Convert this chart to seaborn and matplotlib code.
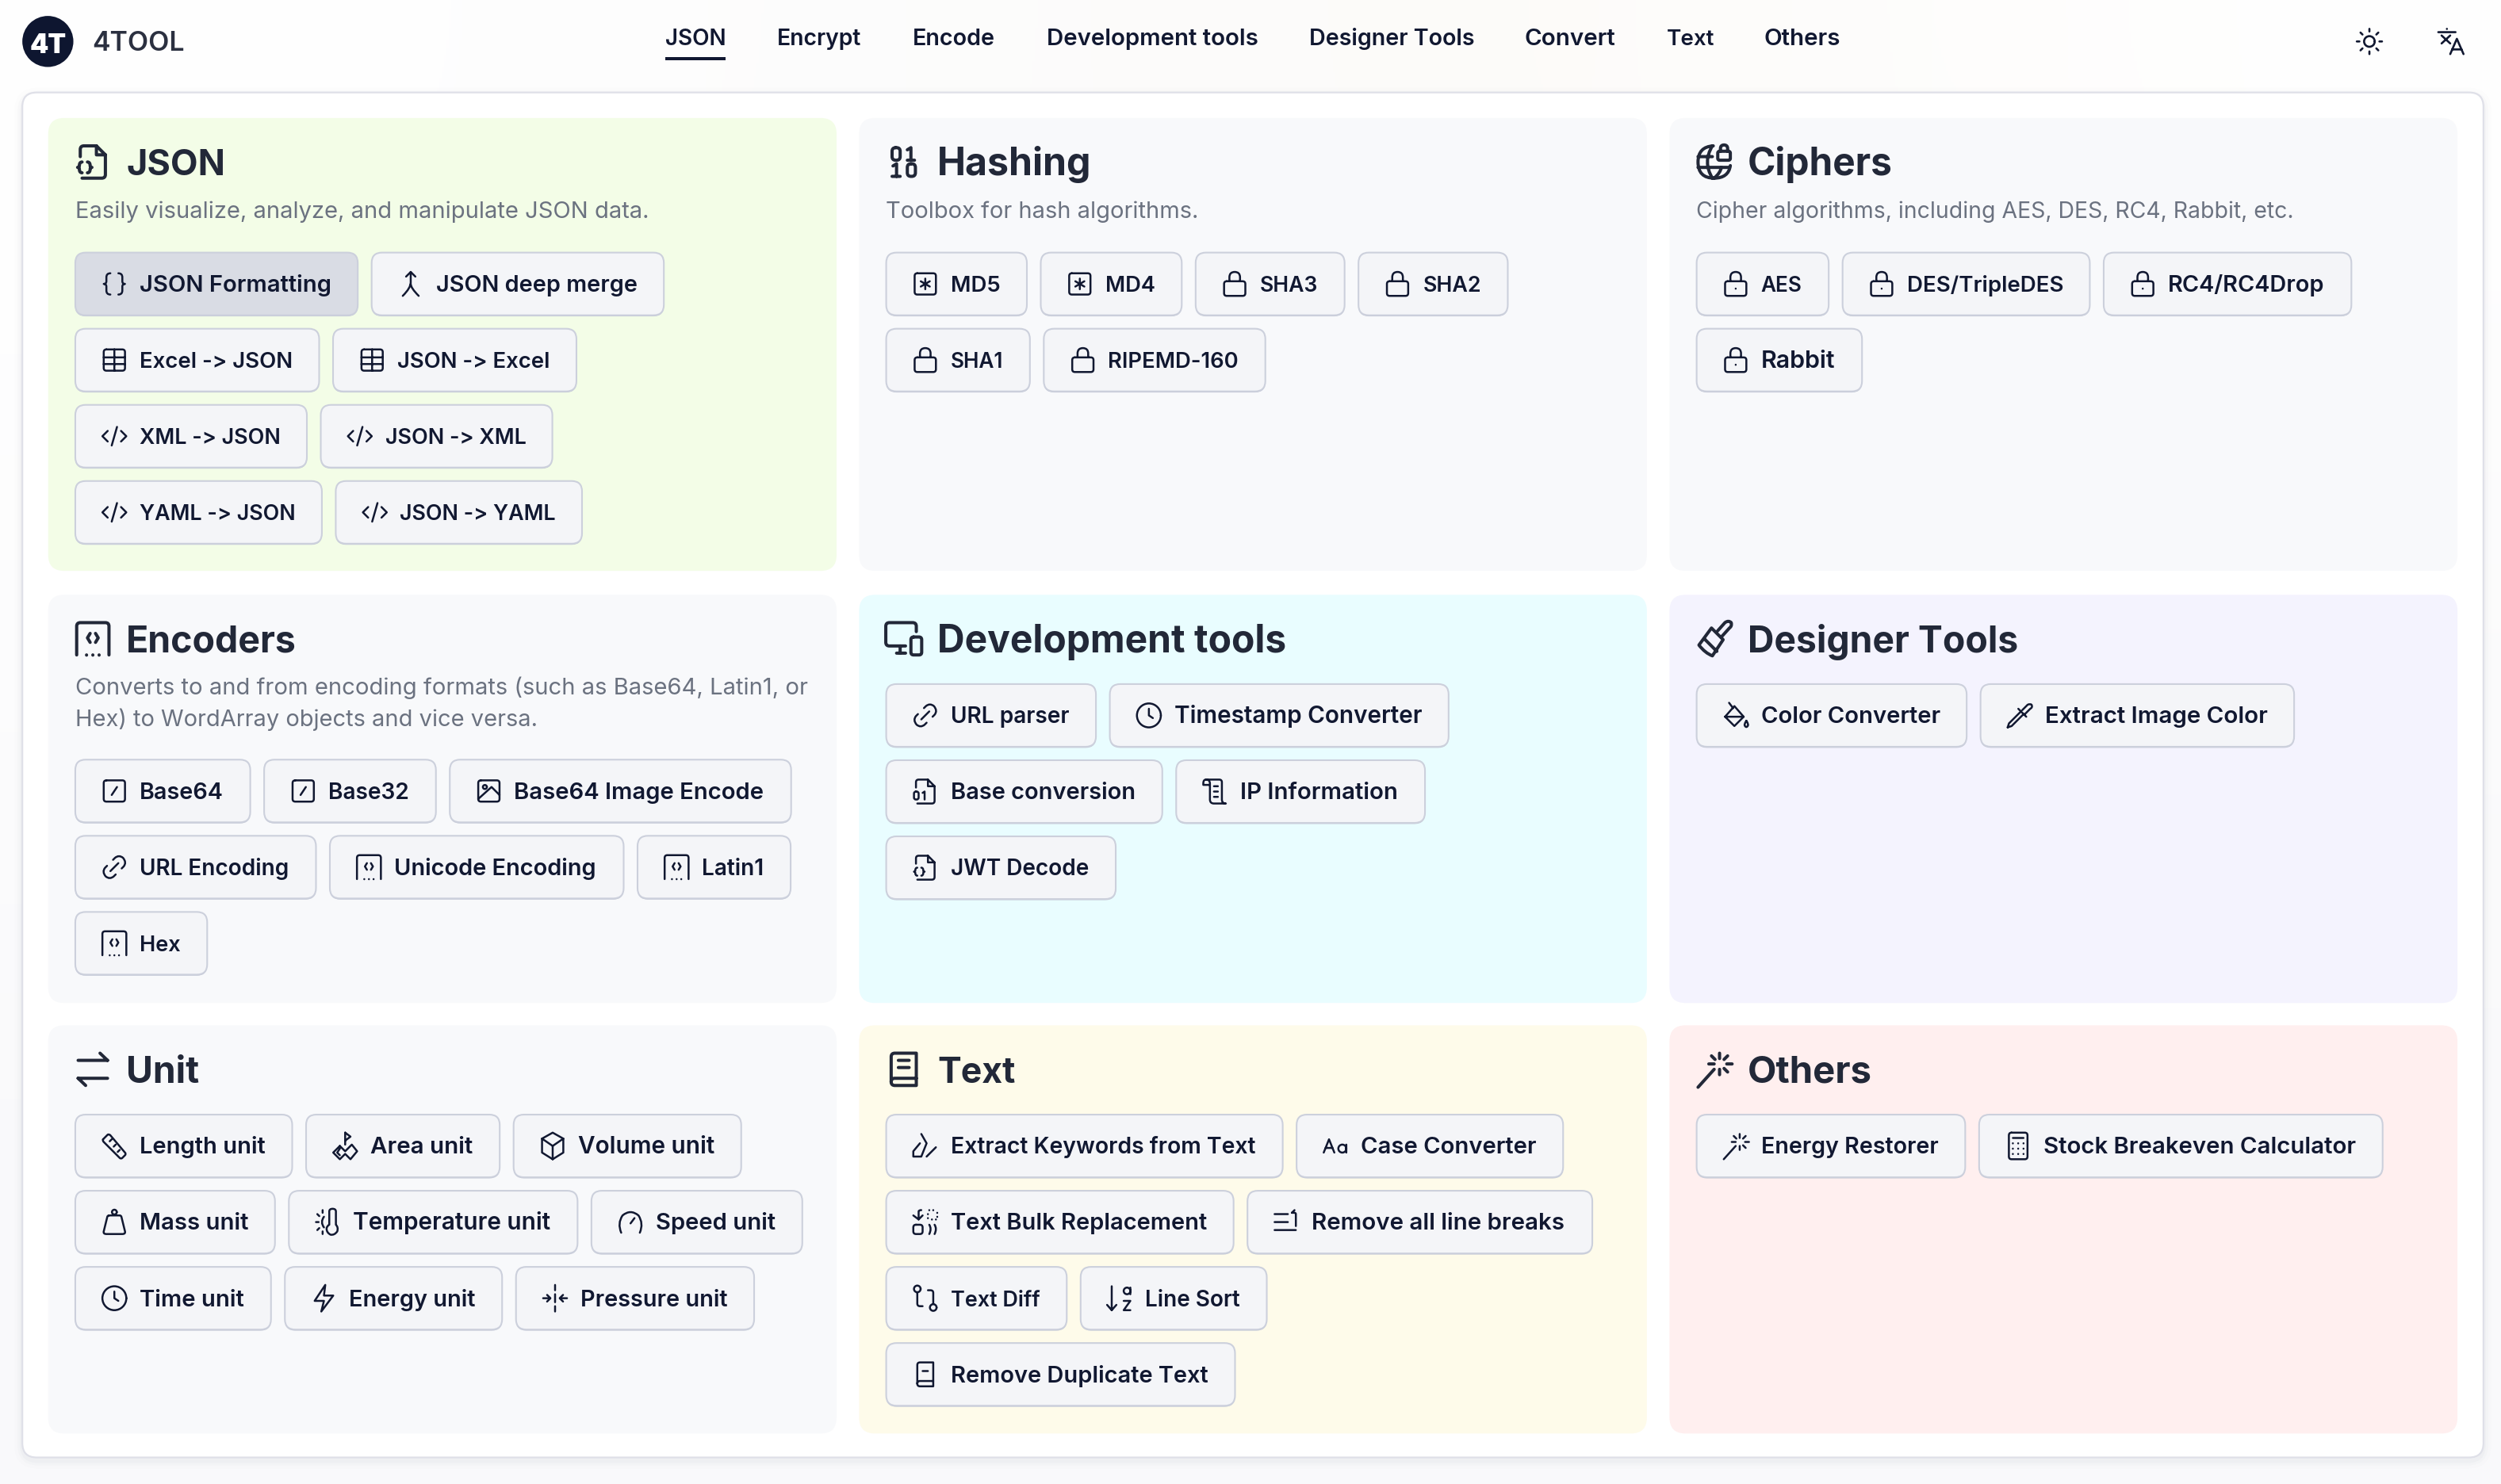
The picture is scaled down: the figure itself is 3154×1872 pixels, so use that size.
import re
import numpy as np
import matplotlib
matplotlib.use("Agg")
import matplotlib.pyplot as plt
from matplotlib.patches import FancyBboxPatch, PathPatch, Circle, Rectangle
from matplotlib.path import Path
from matplotlib.colors import to_rgb
import seaborn as sns

# ---------- content ----------
BRAND = "4TOOL"
NAV_LABELS = ["JSON", "Encrypt", "Encode", "Development tools", "Designer Tools", "Convert", "Text", "Others"]

CARD_TITLES = ["JSON", "Hashing", "Ciphers", "Encoders", "Development tools", "Designer Tools", "Unit", "Text", "Others"]
CARD_DESCS = [
    ["Easily visualize, analyze, and manipulate JSON data."],
    ["Toolbox for hash algorithms."],
    ["Cipher algorithms, including AES, DES, RC4, Rabbit, etc."],
    ["Converts to and from encoding formats (such as Base64, Latin1, or",
     "Hex) to WordArray objects and vice versa."],
    [], [], [], [], [],
]
CARD_ICONS = ["file_braces", "binary", "globe_lock", "file_dots", "devices", "brush", "arrows", "book2", "wand"]

JSON_TOOLS = [["JSON Formatting", "JSON deep merge"], ["Excel -> JSON", "JSON -> Excel"],
              ["XML -> JSON", "JSON -> XML"], ["YAML -> JSON", "JSON -> YAML"]]
HASH_TOOLS = [["MD5", "MD4", "SHA3", "SHA2"], ["SHA1", "RIPEMD-160"]]
CIPHER_TOOLS = [["AES", "DES/TripleDES", "RC4/RC4Drop"], ["Rabbit"]]
ENCODER_TOOLS = [["Base64", "Base32", "Base64 Image Encode"], ["URL Encoding", "Unicode Encoding", "Latin1"], ["Hex"]]
DEV_TOOLS = [["URL parser", "Timestamp Converter"], ["Base conversion", "IP Information"], ["JWT Decode"]]
DESIGN_TOOLS = [["Color Converter", "Extract Image Color"]]
UNIT_TOOLS = [["Length unit", "Area unit", "Volume unit"], ["Mass unit", "Temperature unit", "Speed unit"],
              ["Time unit", "Energy unit", "Pressure unit"]]
TEXT_TOOLS = [["Extract Keywords from Text", "Case Converter"], ["Text Bulk Replacement", "Remove all line breaks"],
              ["Text Diff", "Line Sort"], ["Remove Duplicate Text"]]
OTHER_TOOLS = [["Energy Restorer", "Stock Breakeven Calculator"]]
ALL_TOOLS = [JSON_TOOLS, HASH_TOOLS, CIPHER_TOOLS, ENCODER_TOOLS, DEV_TOOLS, DESIGN_TOOLS, UNIT_TOOLS, TEXT_TOOLS, OTHER_TOOLS]

TOOL_ICONS = {
    "JSON Formatting": "braces", "JSON deep merge": "merge", "Excel -> JSON": "table", "JSON -> Excel": "table",
    "XML -> JSON": "code", "JSON -> XML": "code", "YAML -> JSON": "code", "JSON -> YAML": "code",
    "MD5": "star_box", "MD4": "star_box", "SHA3": "lock", "SHA2": "lock", "SHA1": "lock", "RIPEMD-160": "lock",
    "AES": "lockdot", "DES/TripleDES": "lockdot", "RC4/RC4Drop": "lockdot", "Rabbit": "lockdot",
    "Base64": "slash_box", "Base32": "slash_box", "Base64 Image Encode": "image", "URL Encoding": "link",
    "Unicode Encoding": "file_dots", "Latin1": "file_dots", "Hex": "file_dots",
    "URL parser": "link", "Timestamp Converter": "clock", "Base conversion": "file01", "IP Information": "scroll",
    "JWT Decode": "file_braces", "Color Converter": "bucket", "Extract Image Color": "pipette",
    "Length unit": "ruler", "Area unit": "area", "Volume unit": "cube", "Mass unit": "weight",
    "Temperature unit": "thermo", "Speed unit": "gauge", "Time unit": "clock", "Energy unit": "bolt",
    "Pressure unit": "pressure", "Extract Keywords from Text": "highlight", "Case Converter": "case",
    "Text Bulk Replacement": "replace", "Remove all line breaks": "breaks", "Text Diff": "diff", "Line Sort": "sort",
    "Remove Duplicate Text": "book1", "Energy Restorer": "wand", "Stock Breakeven Calculator": "calc",
}

# ---------- layout (units: 1568 wide page) ----------
PAGE_W, PAGE_H = 1568.0, 1568.0 * 1872 / 3154
NAV_SPANS = [(417, 455), (487, 540), (572, 624), (656, 789), (821, 925), (956, 1013), (1045, 1075), (1106, 1154)]
COL_X = [(30.2, 524.5), (538.6, 1032.5), (1046.7, 1540.7)]
ROW_Y = [(74, 358), (373, 629), (643, 899)]
TITLE_W = [62, 97, 91, 107, 219, 170, 46, 49, 78]
DESC_W = [[360], [196], [374], [460, 290], [], [], [], [], []]
FIRST_ROW_OFFSET = [84.4, 84.4, 84.4, 103.4, 56, 56, 56, 56, 56]
BTN_W = [
    [[177.1, 183.2], [152.9, 152.6], [145.2, 145.2], [154.6, 154.4]],
    [[88.2, 88.4, 93.4, 93.6], [90.1, 138.9]],
    [[82.8, 155, 155.3], [103.7]],
    [[109.7, 107.7, 214], [150.9, 184.2, 96], [82.7]],
    [[131.5, 212.4], [173.1, 156], [143.9]],
    [[169.3, 196.6]],
    [[136, 121.4, 142.7], [125.2, 181, 132.2], [122.7, 136.2, 149.3]],
    [[248.6, 167.1], [217.8, 216.2], [113.2, 116.7], [218.7]],
    [[168.4, 253]],
]
BTN_H, BTN_PITCH, BTN_GAP = 39.3, 47.75, 8.7

CARD_COLORS = ["#f3fde7", "#f8f9fb", "#f8f9fb", "#f8f9fb", "#e9fdff", "#f4f3fe", "#f8f9fb", "#fefbea", "#ffefef"]
INK, TITLE_INK, MUTED = "#111831", "#222838", "#6b7280"
BTN_FILL, BTN_ACTIVE, BTN_EDGE = "#f4f5f8", "#d9dce4", "#ccd0dc"
PAGE_GRID = [["#ffffff", "#fcfcfc", "#fdfbf8", "#ffffff"],
             ["#fcfcfd", "#fbfbfc", "#fbfbfb", "#fbfbfc"],
             ["#f9f9fb", "#f9f9fb", "#f9f9fb", "#f9f9fb"]]

FONT = "Inter"

# ---------- icons, 24-unit grid ----------
ICONS = {
    "braces": "M9 4 Q6 4 6 7 L6 10 Q6 12 4 12 Q6 12 6 14 L6 17 Q6 20 9 20 M15 4 Q18 4 18 7 L18 10 Q18 12 20 12 Q18 12 18 14 L18 17 Q18 20 15 20",
    "merge": "M12 3 L12 11 Q12 15 6 21 M12 12 Q12 15 18 21 M8.5 6.5 L12 3 L15.5 6.5",
    "table": "R 4 4 16 16 2 M4 10 L20 10 M4 15 L20 15 M12 4 L12 20",
    "code": "M7 8 L3 12 L7 16 M17 8 L21 12 L17 16 M14 5 L10 19",
    "star_box": "R 4 4 16 16 2 M12 8 L12 16 M8.6 10 L15.4 14 M15.4 10 L8.6 14",
    "lock": "R 4 10 16 11 2 M8 10 L8 7 Q8 3 12 3 Q16 3 16 7 L16 10",
    "lockdot": "R 4 10 16 11 2 M8 10 L8 7 Q8 3 12 3 Q16 3 16 7 L16 10 M12 15.5 L12 15.6",
    "slash_box": "R 4 4 16 16 2 M10 15 L14 9",
    "image": "R 4 4 16 16 2 O 9 9 1.5 M4 18 L14 9 L20 15",
    "link": "M11 6.5 L12.5 5 Q15.5 2.5 18.5 5 Q21.5 8.5 19 11.5 L17.5 13 M13 17.5 L11.5 19 Q8.5 21.5 5.5 19 Q2.5 15.5 5 12.5 L6.5 11 M9 15 L15 9",
    "file_dots": "M3 21 L3 5 Q3 3 5 3 L19 3 Q21 3 21 5 L21 21 M10.5 9 L9 11.5 L10.5 14 M13.5 9 L15 11.5 L13.5 14 M8.5 21 L8.5 21.1 M12 21 L12 21.1 M15.5 21 L15.5 21.1",
    "clock": "O 12 12 9 M12 7 L12 12 L15 14",
    "file_braces": "M5 9 L5 5 Q5 3 7 3 L14 3 L19 8 L19 19 Q19 21 17 21 L6 21 M14 3 L14 8 L19 8 M6 12 Q4.5 12 4.5 14 Q4.5 15 3.5 15 Q4.5 15 4.5 16 Q4.5 18 6 18 M9 12 Q10.5 12 10.5 14 Q10.5 15 11.5 15 Q10.5 15 10.5 16 Q10.5 18 9 18",
    "file01": "M5 9 L5 5 Q5 3 7 3 L14 3 L19 8 L19 19 Q19 21 17 21 L6 21 M14 3 L14 8 L19 8 R 3.5 12 3.5 6 1.5 M10 13 L11.5 12 L11.5 18",
    "scroll": "M5 3 Q8 3 8 6 L8 18 Q8 21 11 21 L20 21 Q17 21 17 18 L17 5 Q17 3 15 3 L5 3 Q3 3 3 6 L3 7 L8 7 M11 8 L14 8 M11 12 L14 12 M11 16 L14 16",
    "bucket": "M7 2.5 L10 6.5 M11 5 L18 13 L11 20 L4 13 Z M4 13 L18 13 M20 16 Q22 19 21 20 Q20 21.5 19 20 Q18 19 20 16",
    "pipette": "M3 21 L4 18 L13 9 M3 21 L6 20 L15 11 M11 7 L17 13 M14 8 L18 4 Q20 3 21 4 Q22 6 20 7 L16 11",
    "ruler": "M3.5 7 L7 3.5 Q8 3 9 4 L20 17 Q21 18 20 19 L18 21 Q17 22 16 21 L4 9 Q3 8 3.5 7 M10 7 L8.5 8.5 M13 11 L11.5 12.5 M16 15 L14.5 16.5",
    "area": "M12 2 L12 11 M12 2 L16 5 L12 8 M8 12 L3 17 L8 22 L12 18 L16 22 L21 16 L17 11 L12 16 L8 12 M8 14 L6 17 L8 19",
    "cube": "M12 2 L20 6.5 L20 17 L12 22 L4 17 L4 6.5 Z M4 6.5 L12 12 L20 6.5 M12 12 L12 22",
    "weight": "O 12 4.5 1.8 M8 7 L16 7 Q17 7 17.3 8 L20 19 Q20.5 21 18 21 L6 21 Q3.5 21 4 19 L6.7 8 Q7 7 8 7",
    "thermo": "M13 4 Q13 2 15.5 2 Q18 2 18 4 L18 14 Q20 16 19 19 Q17 22 14 21.5 Q11 20 11 17 Q11 15 13 14 Z M8 3 L8 5 M4 6 L5.5 7.5 M3 12 L5 12 M4 18 L5.5 16.5 M8 21 L8 19 M9 8 Q6 12 9 16",
    "gauge": "M5 20 Q2 13 6 7 Q12 2 18 7 Q22 13 19 20 M12 13 L15 9",
    "bolt": "M13 2 L5 14 L12 14 L10 22 L19 10 L12 10 Z",
    "pressure": "M12 2 L12 6 M12 9 L12 15 M12 18 L12 22 M3 12 L8 12 M6 9.5 L8.5 12 L6 14.5 M21 12 L16 12 M18 9.5 L15.5 12 L18 14.5",
    "highlight": "M9 3 L13 10 L9 20 L3 20 L3 16 L8 10 M13 20 L20 13",
    "case": "M3 17 L7 7 L11 17 M4.5 13.5 L9.5 13.5 O 17 14 3 M20 11 L20 17",
    "replace": "R 3 14 7 7 2 M15 14 Q17 17 15 21 M19 14 Q21 17 19 21 M3 7 L7 10 L10 7 M7 10 L7 4 Q7 3 9 3 M15 3 L15 3.1 M18 3 L18 3.1 M21 5 L21 5.1 M21 8 L21 8.1 M14 6 L14 6.1 M14 9 L14 9.1 M17 10 L17 10.1 M20 10 L20 10.1",
    "breaks": "M3 6 L13 6 M3 12 L13 12 M3 18 L19 18 M19 15 L19 6 Q19 5 18 5 L16 5 M16 5 L18 3",
    "diff": "O 6 5 2.5 O 18 19 2.5 M6 8 L6 16 Q6 18 8 18 L10 18 M18 16 L18 8 Q18 6 16 6 L14 6",
    "sort": "M6 3 L6 21 M2.5 17 L6 21 L9.5 17 O 17.5 6.5 2.5 M20 4 L20 9 M15 14 L20 14 L15 21 L20 21",
    "book1": "M6 19 L6 5 Q6 3 8 3 L18 3 L18 21 L8 21 Q6 21 6 19 Q6 17 8 17 L18 17 M10 9.5 L14 9.5",
    "book2": "M5 19 L5 5 Q5 3 7 3 L19 3 L19 21 L7 21 Q5 21 5 19 Q5 17 7 17 L19 17 M9 7 L15 7 M9 11 L15 11",
    "calc": "R 5 2 14 20 2 M8 6 L16 6 M8 10 L8 10.1 M12 10 L12 10.1 M16 10 L16 10.1 M8 14 L8 14.1 M12 14 L12 14.1 M16 14 L16 14.1 M8 18 L8 18.1 M12 18 L12 18.1 M16 18 L16 18.1",
    "wand": "M3 22 L12 12 M15 3 L15 6 M15 12 L15 15 M22 9 L19 9 M12 9 L9 9 M10.5 4.5 L12.5 6.5 M19.5 4.5 L17.5 6.5 M19.5 13.5 L17.5 11.5",
    "binary": "R 5.5 4 4.5 7 2 M14 5.2 L16 4 L16 11 M14 11 L18 11 M6 14.2 L8 13 L8 20 M5.5 20 L10 20 R 14 13 4.5 7 2",
    "globe_lock": "M11.5 3 Q3 3.5 3 12 Q3 21 12 21 Q20 21 21 14 M3 9 L11 9 M3 15 L20.5 15 M11 3 Q5.5 12 11 21 M12 21 Q15.5 18 16 15 R 14 6 7 5 1 M15.5 6 L15.5 4.5 Q15.5 2.5 17.5 2.5 Q19.5 2.5 19.5 4.5 L19.5 6",
    "devices": "M19 8 L19 5 Q19 3 17 3 L4 3 Q2 3 2 5 L2 14 Q2 16 4 16 L13 16 M8 20 L13 20 M10 16 L10 20 R 16 11 6 10 1.5",
    "brush": "M14 7.5 L18 3 Q20 1.5 21.5 3 Q22 5 20.5 6 L16 11 M10.5 6 L17 12.5 L11 21.5 Q7 20 3.5 15.5 Z M6.5 12 L13.5 19",
    "arrows": "M3.8 7 L20.2 7 M16 3 L20.2 7 M20.2 17 L3.8 17 M8 21 L3.8 17",
    "sun": "O 12 12 4 M12 2.5 L12 4.5 M12 19.5 L12 21.5 M2.5 12 L4.5 12 M19.5 12 L21.5 12 M5.3 5.3 L6.8 6.8 M17.2 17.2 L18.7 18.7 M5.3 18.7 L6.8 17.2 M17.2 6.8 L18.7 5.3",
    "translate": "M2 5 L15 5 M8.5 2.5 L8.5 2.6 M4.5 7.5 L11 13.5 M11 7.5 L4.5 13.5 M11 21.5 L16 10 L21 21.5 M12.5 18 L19.5 18",
}


def icon_path(spec, cx, cy, size):
    verts, codes = [], []
    toks = re.findall(r"[A-Za-z]|-?[\d.]+", spec)
    i = 0

    def nums(n):
        nonlocal i
        vals = [float(v) for v in toks[i:i + n]]
        i += n
        return vals

    def add(code, *pts):
        for p in pts:
            verts.append(p)
            codes.append(code)

    while i < len(toks):
        c = toks[i]
        i += 1
        if c == "M":
            x, y = nums(2)
            add(Path.MOVETO, (x, y))
        elif c == "L":
            x, y = nums(2)
            add(Path.LINETO, (x, y))
        elif c == "Q":
            a, b, x, y = nums(4)
            add(Path.CURVE3, (a, b), (x, y))
        elif c == "Z":
            add(Path.CLOSEPOLY, verts[-1])
        elif c == "O":
            x, y, r = nums(3)
            k = 0.5523 * r
            add(Path.MOVETO, (x + r, y))
            add(Path.CURVE4, (x + r, y + k), (x + k, y + r), (x, y + r))
            add(Path.CURVE4, (x - k, y + r), (x - r, y + k), (x - r, y))
            add(Path.CURVE4, (x - r, y - k), (x - k, y - r), (x, y - r))
            add(Path.CURVE4, (x + k, y - r), (x + r, y - k), (x + r, y))
        elif c == "R":
            x, y, w, h, r = nums(5)
            add(Path.MOVETO, (x + r, y))
            add(Path.LINETO, (x + w - r, y))
            add(Path.CURVE3, (x + w, y), (x + w, y + r))
            add(Path.LINETO, (x + w, y + h - r))
            add(Path.CURVE3, (x + w, y + h), (x + w - r, y + h))
            add(Path.LINETO, (x + r, y + h))
            add(Path.CURVE3, (x, y + h), (x, y + h - r))
            add(Path.LINETO, (x, y + r))
            add(Path.CURVE3, (x, y), (x + r, y))
    pts = (np.array(verts) - 12.0) * size / 24.0 + np.array([cx, cy])
    return Path(pts, codes)


# ---------- drawing ----------
sns.set_theme(style="white", rc={"axes.linewidth": 0})
plt.rcParams["font.family"] = [FONT, "DejaVu Sans"]
card_palette = sns.color_palette(CARD_COLORS)

fig = plt.figure(figsize=(15.77, 9.36), dpi=200)
ax = fig.add_axes([0, 0, 1, 1])
ax.imshow(np.array([[to_rgb(c) for c in row] for row in PAGE_GRID]), extent=(0, PAGE_W, PAGE_H, 0),
          aspect="auto", interpolation="bicubic", zorder=0)
ax.set_xlim(0, PAGE_W)
ax.set_ylim(PAGE_H, 0)
ax.set_axis_off()
renderer = fig.canvas.get_renderer()
UNIT_PX = 3154 / 1568


def box(x0, y0, x1, y1, r, fc, ec="none", lw=0.0, z=1, alpha=None):
    p = FancyBboxPatch((x0, y0), x1 - x0, y1 - y0, boxstyle=f"round,pad=0,rounding_size={r}",
                       fc=fc, ec=ec, lw=lw, zorder=z, alpha=alpha)
    ax.add_patch(p)
    return p


def label(x, y, s, target, color, weight, base=10.0, z=6):
    t = ax.text(x, y, s, color=color, fontsize=base, fontweight=weight, ha="left", va="baseline", zorder=z)
    w = t.get_window_extent(renderer).width
    t.set_fontsize(base * target * UNIT_PX / w)
    return t


def draw_icon(name, cx, cy, size, lw, color=INK, z=6):
    ax.add_patch(PathPatch(icon_path(ICONS[name], cx, cy, size), fc="none", ec=color, lw=lw,
                           capstyle="round", joinstyle="round", zorder=z))


# header
ax.add_patch(Circle((30, 26), 16, fc="#0e1630", ec="none", zorder=3))
label(18.5, 33.5, "4T", 23, "white", "black", base=20)
label(58, 32, BRAND, 58, "#2b3040", "semibold", base=13)
for s, (x0, x1) in zip(NAV_LABELS, NAV_SPANS):
    label(x0, 28.5, s, x1 - x0, INK, "semibold", base=10)
ax.add_patch(Rectangle((417, 36), 38, 1.7, fc=INK, ec="none", zorder=3))
draw_icon("sun", 1485.5, 26, 20, 0.95)
draw_icon("translate", 1537, 26, 20, 0.95)

# main panel
for grow, a in ((5, 0.012), (3, 0.02), (1.5, 0.03)):
    box(14 - grow, 58 - grow + 2, 1557 + grow, 914 + grow + 2, 10 + grow, "#5a6078", z=1, alpha=a)
box(14, 58, 1557, 914, 9, "white", ec="#dfe0e8", lw=0.8, z=2)

# cards
for idx, title in enumerate(CARD_TITLES):
    c, r = idx % 3, idx // 3
    x0, x1 = COL_X[c]
    y0, y1 = ROW_Y[r]
    box(x0, y0, x1, y1, 10, card_palette[idx], z=3)
    y_title = y0 + 36.1
    draw_icon(CARD_ICONS[idx], x0 + 28, y_title - 8.5, 27, 1.45, color=TITLE_INK)
    label(x0 + 49, y_title, title, TITLE_W[idx], TITLE_INK, "bold", base=17)
    for k, line in enumerate(CARD_DESCS[idx]):
        label(x0 + 16.8, y0 + 62.6 + 20 * k, line, DESC_W[idx][k], MUTED, "normal", base=10)
    top = y0 + FIRST_ROW_OFFSET[idx]
    for ri, (row, widths) in enumerate(zip(ALL_TOOLS[idx], BTN_W[idx])):
        bx = x0 + 17
        by = top + ri * BTN_PITCH
        for name, w in zip(row, widths):
            active = name == "JSON Formatting"
            box(bx, by + 0.7, bx + w, by + BTN_H + 0.7, 6.5, "#c3c8d6", z=4)
            box(bx, by, bx + w, by + BTN_H, 6.5, BTN_ACTIVE if active else BTN_FILL, ec=BTN_EDGE, lw=0.75, z=5)
            draw_icon(TOOL_ICONS[name], bx + 24.5, by + BTN_H / 2, 20, 0.9)
            label(bx + 40.3, by + BTN_H / 2 + 4.9, name, w - 57, INK, "semibold", base=10)
            bx += w + BTN_GAP

fig.savefig("out.png", dpi=200)
